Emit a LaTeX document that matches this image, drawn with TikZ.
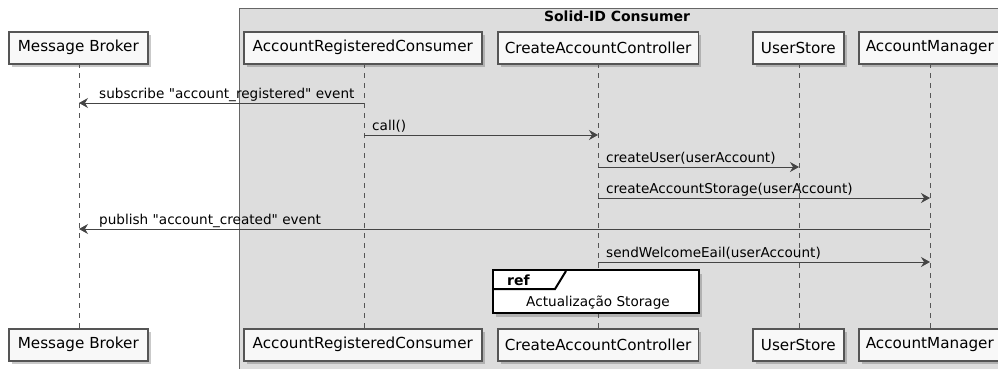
\documentclass[tikz,border=0pt]{standalone}
\usepackage{fontspec}
\setmainfont{DejaVu Sans}
% plain family without the TeX quote mapping, so " stays straight
\newfontfamily\plainsans{DejaVu Sans}
\usetikzlibrary{shadows,arrows.meta}
\definecolor{partfill}{HTML}{F8F8F8}
\definecolor{partline}{HTML}{555555}
\definecolor{groupfill}{HTML}{DDDDDD}
\definecolor{groupline}{HTML}{666666}
\definecolor{msgline}{HTML}{444444}
\tikzset{
  participant/.style={draw=partline, line width=1.6pt, fill=partfill,
    minimum height=32pt, inner xsep=7pt, inner ysep=0pt, anchor=north west,
    font=\plainsans\fontsize{15.2}{17}\selectfont,
    drop shadow={shadow xshift=3pt, shadow yshift=-3.5pt, opacity=0.3, fill=black!70}},
  lifeline/.style={draw=partline, line width=0.8pt, dash pattern=on 5pt off 5pt},
  msg/.style={draw=msgline, line width=1pt,
    -{Stealth[length=9pt,width=10pt,inset=3pt]}},
  msglabel/.style={anchor=base west, inner sep=0pt, text=black,
    font=\plainsans\fontsize{13.6}{15}\selectfont},
}
\begin{document}
\begin{tikzpicture}[x=1pt,y=-1pt]
  \useasboundingbox (0,0) rectangle (998,369);
  % group frame
  \draw[draw=groupline, fill=groupfill, line width=1pt] (239,9) rectangle (1010,380);
  \node[font=\plainsans\fontsize{14}{16}\selectfont\bfseries, inner sep=0pt, anchor=base] (grp) at (617,22) {Solid-ID Consumer};

  % lifelines
  \coordinate (top) at (0,63);
  \coordinate (bot) at (0,328);
  \coordinate (lmb) at (79,0);
  \coordinate (larc) at (364,0);
  \coordinate (lcac) at (598,0);
  \coordinate (lus) at (799,0);
  \coordinate (lam) at (930,0);
  \foreach \l in {lmb,larc,lcac,lus,lam}
    \draw[lifeline] (\l |- top) -- (\l |- bot);

  % participants (top)
  \node[participant, minimum width=139pt] (mbT) at (8,31) {Message Broker};
  \node[participant, minimum width=238pt] (arcT) at (243,31) {AccountRegisteredConsumer};
  \node[participant, minimum width=200pt] (cacT) at (497,31) {CreateAccountController};
  \node[participant, minimum width=91pt] (usT) at (752,31) {UserStore};
  \node[participant, minimum width=137pt] (amT) at (858,31) {AccountManager};
  % participants (bottom)
  \node[participant, minimum width=139pt] (mbB) at (8,328) {Message Broker};
  \node[participant, minimum width=238pt] (arcB) at (243,328) {AccountRegisteredConsumer};
  \node[participant, minimum width=200pt] (cacB) at (497,328) {CreateAccountController};
  \node[participant, minimum width=91pt] (usB) at (752,328) {UserStore};
  \node[participant, minimum width=137pt] (amB) at (858,328) {AccountManager};

  % message rows
  \coordinate (m1) at (0,103);
  \coordinate (m2) at (0,135);
  \coordinate (m3) at (0,167);
  \coordinate (m4) at (0,198);
  \coordinate (m5) at (0,229);
  \coordinate (m6) at (0,262);

  \draw[msg] (larc |- m1) -- (lmb |- m1);
  \node[msglabel] (t1) at (99,98) {subscribe "account\_registered" event};

  \draw[msg] (larc |- m2) -- (lcac |- m2);
  \node[msglabel] (t2) at (372,130) {call()};

  \draw[msg] (lcac |- m3) -- (lus |- m3);
  \node[msglabel] (t3) at (606,162) {createUser(userAccount)};

  \draw[msg] (lcac |- m4) -- (lam |- m4);
  \node[msglabel] (t4) at (606,193) {createAccountStorage(userAccount)};

  \draw[msg] (lam |- m5) -- (lmb |- m5);
  \node[msglabel] (t5) at (99,224) {publish "account\_created" event};

  \draw[msg] (lcac |- m6) -- (lam |- m6);
  \node[msglabel] (t6) at (606,257) {sendWelcomeEail(userAccount)};

  % reference frame
  \draw[draw=black, fill=white, line width=2pt,
    drop shadow={shadow xshift=3pt, shadow yshift=-3.5pt, opacity=0.3, fill=black!70}]
    (493,270) rectangle (699,313);
  \draw[line width=2pt] (493,289) -- (555,289) -- (566,271);
  \node[font=\plainsans\fontsize{14}{16}\selectfont\bfseries, inner sep=0pt, anchor=base west] (reft) at (507,285) {ref};
  \node[font=\plainsans\fontsize{13.6}{15}\selectfont, inner sep=0pt, anchor=base] (refb) at (598,306) {Actualização Storage};
\end{tikzpicture}
\end{document}
